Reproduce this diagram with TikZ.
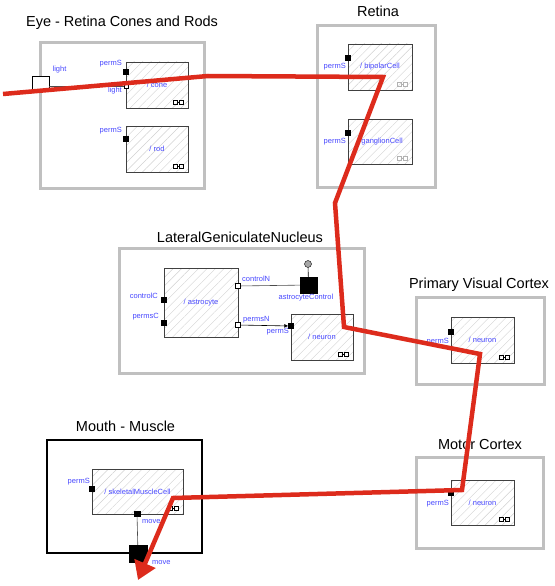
\documentclass[tikz,border=0pt]{standalone}
\usepackage{fontspec}
\setmainfont{Liberation Sans}
\usetikzlibrary{arrows.meta}
\usetikzlibrary{patterns.meta}
\definecolor{modgray}{RGB}{192,192,192}
\definecolor{portblue}{RGB}{70,70,255}
\definecolor{pathred}{RGB}{221,43,28}
\tikzstyle{module}=[draw=modgray, line width=3pt, inner sep=0pt]
\tikzstyle{bmodule}=[draw=black, line width=2.5pt, inner sep=0pt]
\tikzstyle{cell}=[draw=black!75, line width=0.9pt, inner sep=0pt, text=portblue, font=\fontsize{7.5}{9}\selectfont, pattern={Lines[angle=45,distance=6pt,line width=0.4pt]}, pattern color=black!18]
\tikzstyle{port}=[draw, fill=black, inner sep=0pt, minimum size=5pt]
\tikzstyle{oport}=[draw, fill=white, inner sep=0pt, minimum size=5pt, line width=0.6pt]
\tikzstyle{plabel}=[text=portblue, font=\fontsize{7.5}{9}\selectfont, inner sep=0pt]
\tikzstyle{title}=[font=\fontsize{14.5}{16}\selectfont, inner sep=0pt, anchor=base]
\tikzstyle{redpath}=[draw=pathred, line width=4.5pt, -{Triangle[length=18pt,width=22pt]}]
\newcommand{\ddicon}[2][black]{\draw[#1, line width=0.6pt] ([shift={(-15,-4)}]#2) rectangle ([shift={(-11,-8)}]#2) ([shift={(-11,-6)}]#2) -- ([shift={(-9,-6)}]#2) ([shift={(-9,-4)}]#2) rectangle ([shift={(-5,-8)}]#2);}

\begin{document}
\begin{tikzpicture}[x=1pt, y=-1pt]
        \useasboundingbox (0,0) rectangle (554,586);
        % modules
        \node[module, minimum width=164pt, minimum height=145pt] (eye) at (122,115.5) {};
        \node[module, minimum width=118pt, minimum height=161pt] (retina) at (376,106.5) {};
        \node[module, minimum width=245pt, minimum height=125pt] (lgn) at (241.5,310.5) {};
        \node[module, minimum width=128pt, minimum height=87pt] (pvc) at (480,340.5) {};
        \node[module, minimum width=127pt, minimum height=91pt] (mc) at (479.5,502.5) {};
        \node[bmodule, minimum width=155pt, minimum height=113pt] (mouth) at (124.5,496.5) {};
        \node[title] (teye) at (122,27) {Eye - Retina Cones and Rods};
        \node[title] (tretina) at (378,17) {Retina};
        \node[title] (tlgn) at (240,242) {LateralGeniculateNucleus};
        \node[title] (tpvc) at (479,288) {Primary Visual Cortex};
        \node[title] (tmc) at (480,449) {Motor Cortex};
        \node[title] (tmouth) at (125.5,431) {Mouth - Muscle};
        % cells
        \node[cell, minimum width=62pt, minimum height=46pt] (cone) at (157,85) {/ cone};
        \node[cell, minimum width=62pt, minimum height=46pt] (rod) at (157,149) {/ rod};
        \node[cell, minimum width=64pt, minimum height=46pt] (bipolar) at (380,67) {/ bipolarCell};
        \node[cell, minimum width=64pt, minimum height=45pt] (ganglion) at (380,141.5) {/ ganglionCell};
        \node[cell, minimum width=74pt, minimum height=69pt] (astro) at (201,302.5) {/ astrocyte};
        \node[cell, minimum width=62pt, minimum height=46pt] (lgnn) at (322,337) {/ neuron};
        \node[cell, minimum width=63pt, minimum height=46pt] (pvcn) at (482.5,340) {/ neuron};
        \node[cell, minimum width=63pt, minimum height=45pt] (mcn) at (482.5,502.5) {/ neuron};
        \node[cell, minimum width=91pt, minimum height=45pt] (skel) at (137.5,491.5) {/ skeletalMuscleCell};
        \ddicon{cone.south east}
        \ddicon{rod.south east}
        \ddicon[black!30]{bipolar.south east}
        \ddicon[black!30]{ganglion.south east}
        \ddicon{lgnn.south east}
        \ddicon{pvcn.south east}
        \ddicon{mcn.south east}
        \ddicon{skel.south east}
        % ports
        \node[oport, minimum width=17pt, minimum height=13pt] (light) at (40.5,82.5) {};
        \node[port] (conep) at (126,72) {};
        \node[oport, minimum size=4pt] (conel) at (126,86) {};
        \node[port] (rodp) at (126,139) {};
        \node[port] (bipp) at (348,58) {};
        \node[port] (ganp) at (348,133) {};
        \node[port] (astc) at (164,300) {};
        \node[port] (astpc) at (164,323) {};
        \node[oport] (astn) at (238,286) {};
        \node[oport] (astpn) at (238,325) {};
        \node[port] (lgnp) at (291,326) {};
        \node[port, minimum width=17pt, minimum height=16pt] (ctrl) at (308.5,285) {};
        \node[draw, circle, fill=black!35, inner sep=0pt, minimum size=7pt] (ctrlsym) at (308,264) {};
        \node[port] (pvcp) at (451,332) {};
        \node[port] (mcp) at (451,493) {};
        \node[port] (skelp) at (92,489) {};
        \node[port, minimum width=6pt] (skelm) at (137,514) {};
        \node[port, minimum width=18pt, minimum height=17pt] (move) at (138,553.5) {};
        % labels
        \node[plabel] (llight) at (59.5,70) {light};
        \node[plabel, anchor=east] (lconep) at (122,64) {permS};
        \node[plabel, anchor=east] (lconel) at (122,91) {light};
        \node[plabel, anchor=east] (lrodp) at (122,131) {permS};
        \node[plabel, anchor=east] (lbipp) at (346,67) {permS};
        \node[plabel, anchor=east] (lganp) at (346,142) {permS};
        \node[plabel, anchor=east] (lastc) at (158,296) {controlC};
        \node[plabel, anchor=east] (lastpc) at (159,317) {permsC};
        \node[plabel, anchor=west] (lastn) at (242,279) {controlN};
        \node[plabel, anchor=west] (lastpn) at (243,320) {permsN};
        \node[plabel] (lctrl) at (306,298) {astrocyteControl};
        \node[plabel, anchor=east] (llgnp) at (289,332) {permS};
        \node[plabel, anchor=east] (lpvcp) at (449,342) {permS};
        \node[plabel, anchor=east] (lmcp) at (449,504) {permS};
        \node[plabel, anchor=east] (lskelp) at (90,482) {permS};
        \node[plabel, anchor=west] (lskelm) at (142,522) {move};
        \node[plabel, anchor=west] (lmove) at (152,563) {move};
        % connections
        \draw[line width=0.6pt, black!70] (light.east |- conel) -- (conel);
        \draw[line width=0.6pt, black!70] (astn) -- (ctrl);
        \draw[line width=0.6pt, -{Latex[length=4pt,width=4pt]}] (astpn) -- (lgnp);
        \draw[line width=0.6pt] (ctrlsym) -- (ctrl);
        \draw[line width=0.6pt, black!70] (skelm) -- (move);
        % path of the signal
        \coordinate (r0) at (3,94);
        \coordinate (r1) at (208,76);
        \coordinate (r2) at (383,77);
        \coordinate (r3) at (335,203);
        \coordinate (r4) at (344,327);
        \coordinate (r5) at (480,354);
        \coordinate (r6) at (462,490);
        \coordinate (r7) at (173,498);
        \coordinate (r8) at (138,580);
        \draw[redpath] (r0) -- (r1) -- (r2) -- (r3) -- (r4) -- (r5) -- (r6) -- (r7) -- (r8);
    \end{tikzpicture}
\end{document}
